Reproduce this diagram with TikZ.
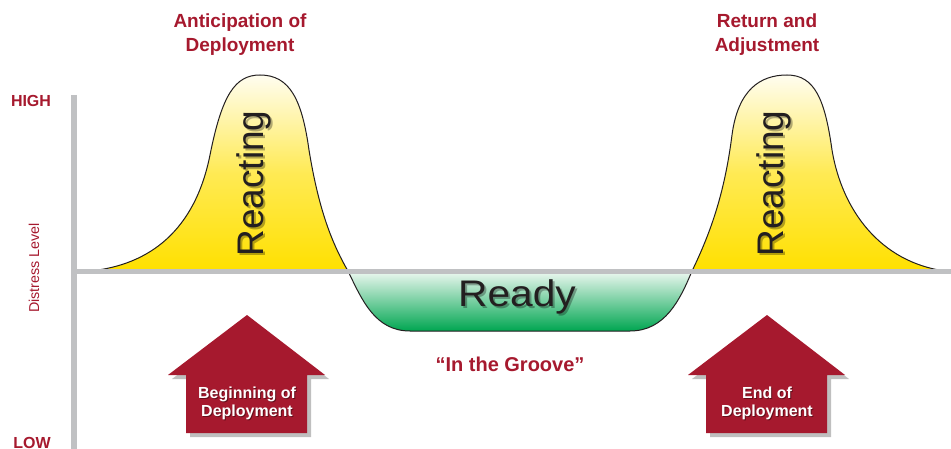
\documentclass[tikz,border=0pt]{standalone}
\usepackage{fontspec}
\setmainfont{Liberation Sans}
\definecolor{dred}{HTML}{A6192E}
\definecolor{axisgray}{HTML}{C0C1C3}
\definecolor{ylw}{HTML}{FFE000}
\definecolor{ylwtop}{HTML}{FFFDF0}
\definecolor{grn}{HTML}{00A651}
\definecolor{grntop}{HTML}{EEF8F1}
\definecolor{ink}{HTML}{231F20}
\tikzset{
  redlabel/.style={text=dred, font=\bfseries\fontsize{19}{24}\selectfont, align=center},
  bigword/.style={text=ink, font=\fontsize{37}{40}\selectfont, inner sep=0pt},
  shadowword/.style={text=black, opacity=0.3, font=\fontsize{37}{40}\selectfont, inner sep=0pt},
  house/.style={fill=dred},
  houseshadow/.style={fill=black, opacity=0.25},
  housetext/.style={text=white, font=\bfseries\fontsize{16}{18}\selectfont, align=center},
  housetextsh/.style={text=black, opacity=0.4, font=\bfseries\fontsize{16}{18}\selectfont, align=center},
}
\begin{document}
\begin{tikzpicture}[x=1pt,y=-1pt]
\useasboundingbox (0,0) rectangle (951,449);
\fill[white] (0,0) rectangle (951,449);

% yellow left bell
\shade[top color=ylwtop, bottom color=ylw, middle color=ylw!65!ylwtop]
  (90,271) .. controls (150,265) and (195,230) .. (210,155)
  .. controls (222,95) and (235,75) .. (260,75)
  .. controls (290,75) and (302,100) .. (309,150)
  .. controls (318,205) and (330,240) .. (348,271) -- cycle;
% green bowl
\shade[top color=grntop, bottom color=grn]
  (348,271) .. controls (362,300) and (375,331) .. (410,331)
  -- (630,331) .. controls (665,331) and (680,300) .. (692,271) -- cycle;
% yellow right bell
\shade[top color=ylwtop, bottom color=ylw, middle color=ylw!65!ylwtop]
  (692,271) .. controls (712,230) and (725,190) .. (732,135)
  .. controls (738,90) and (760,75) .. (787,75)
  .. controls (815,75) and (825,100) .. (832,150)
  .. controls (842,210) and (880,262) .. (945,271) -- cycle;
% outline
\draw[ink, line width=1pt]
  (90,271) .. controls (150,265) and (195,230) .. (210,155)
  .. controls (222,95) and (235,75) .. (260,75)
  .. controls (290,75) and (302,100) .. (309,150)
  .. controls (318,205) and (330,240) .. (348,271)
  .. controls (362,300) and (375,331) .. (410,331)
  -- (630,331) .. controls (665,331) and (680,300) .. (692,271)
  .. controls (712,230) and (725,190) .. (732,135)
  .. controls (738,90) and (760,75) .. (787,75)
  .. controls (815,75) and (825,100) .. (832,150)
  .. controls (842,210) and (880,262) .. (945,271);

% axes
\coordinate (ytop) at (74,95);
\coordinate (ybot) at (74,449);
\coordinate (xl) at (71,272);
\coordinate (xr) at (951,272);
\draw[axisgray, line width=6pt] (ytop) -- (ybot);
\draw[axisgray, line width=5pt] (xl) -- (xr);

% axis labels
\node[text=dred, font=\bfseries\fontsize{16}{18}\selectfont] (high) at (31,101) {HIGH};
\node[text=dred, font=\bfseries\fontsize{16}{18}\selectfont, inner sep=1pt] (low) at (32,443) {LOW};
\node[text=dred, font=\fontsize{14.3}{16}\selectfont, rotate=90] (dl) at (34,268) {Distress Level};

% Reacting / Ready
\node[shadowword, rotate=90] at (255.5,185.5) {Reacting};
\node[bigword, rotate=90] (r1) at (253.5,183.5) {Reacting};
\node[shadowword, rotate=90] at (775.5,185.5) {Reacting};
\node[bigword, rotate=90] (r2) at (773.5,183.5) {Reacting};
\node[shadowword, xscale=1.1] at (519,299) {Ready};
\node[bigword, xscale=1.1] (ready) at (517,297) {Ready};

% titles
\node[redlabel] (t1) at (240,35) {Anticipation of\\Deployment};
\node[redlabel] (t2) at (767,35) {Return and\\Adjustment};
\node[text=dred, font=\bfseries\fontsize{20}{22}\selectfont] (groove) at (510,364) {“In the Groove”};

% houses
\fill[houseshadow] (251,319) -- (329,379) -- (311,379) -- (311,437) -- (190,437) -- (190,379) -- (172,379) -- cycle;
\fill[house] (247,315) -- (325,375) -- (307,375) -- (307,433) -- (186,433) -- (186,375) -- (168,375) -- cycle;
\node[housetextsh] at (248,404) {Beginning of\\Deployment};
\node[housetext] (h1) at (247,403) {Beginning of\\Deployment};

\fill[houseshadow] (771,319) -- (849,379) -- (831,379) -- (831,437) -- (710,437) -- (710,379) -- (692,379) -- cycle;
\fill[house] (767,315) -- (845,375) -- (827,375) -- (827,433) -- (706,433) -- (706,375) -- (688,375) -- cycle;
\node[housetextsh] at (768,404) {End of\\Deployment};
\node[housetext] (h2) at (767,403) {End of\\Deployment};
\end{tikzpicture}
\end{document}
